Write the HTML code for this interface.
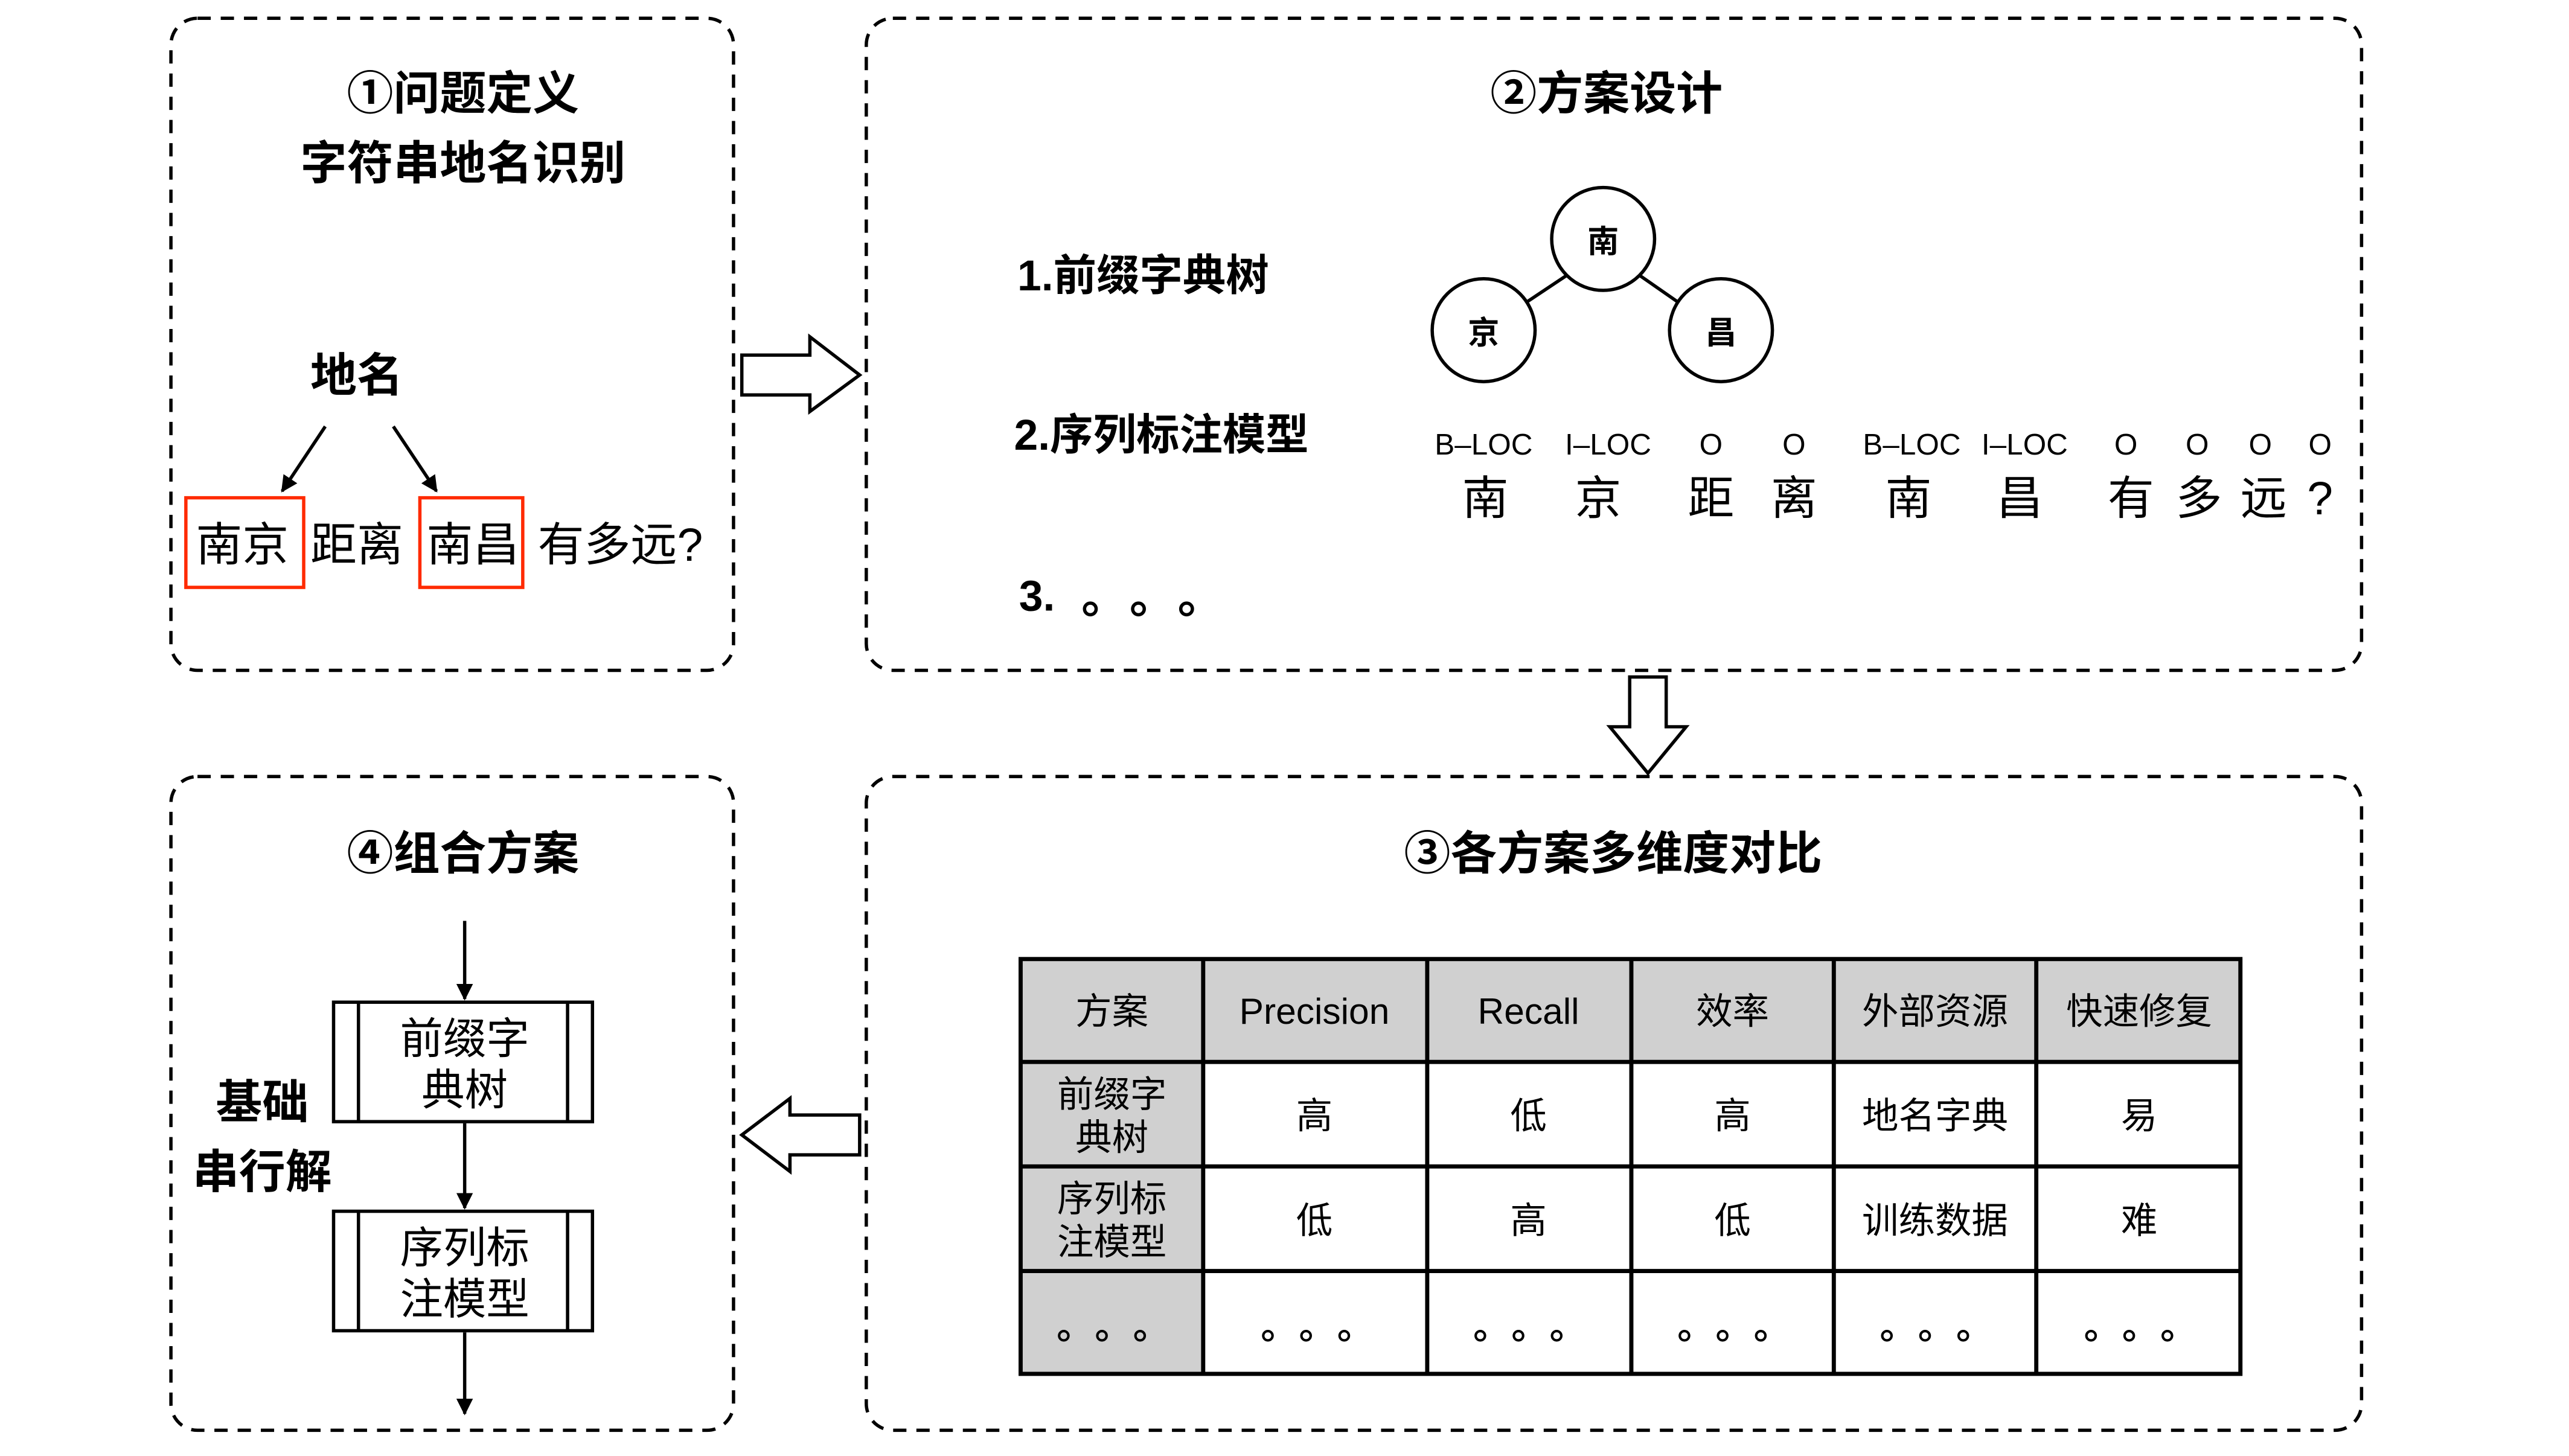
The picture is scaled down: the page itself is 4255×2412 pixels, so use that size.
<!DOCTYPE html>
<html><head><meta charset="utf-8"><style>
html,body{margin:0;padding:0;background:#fff;}
svg{display:block;}
text{font-family:"Liberation Sans","Noto Sans CJK SC",sans-serif;fill:#000;}
.b{font-weight:bold;}
</style></head><body>
<svg width="4255" height="2412" viewBox="0 0 1548 877.5" xmlns="http://www.w3.org/2000/svg">
<defs>
<marker id="ah" markerWidth="10" markerHeight="10" refX="9" refY="5" orient="auto" markerUnits="userSpaceOnUse" viewBox="0 0 10 10">
<path d="M0,0 L10,5 L0,10 z" fill="#000"/></marker>
</defs>
<g fill="none" stroke="#000" stroke-width="2" stroke-dasharray="8,6">
<rect x="103" y="11" width="339" height="393" rx="16"/>
<rect x="522" y="11" width="901" height="393" rx="16"/>
<rect x="522" y="468" width="901" height="394" rx="16"/>
<rect x="103" y="468" width="339" height="394" rx="16"/>
</g>
<g fill="#fff" stroke="#000" stroke-width="2">
<path d="M447,214 L488,214 L488,203 L518,226 L488,248 L488,238 L447,238 Z"/>
<path d="M982,408 L1004,408 L1004,438 L1016,438 L993,466 L970,438 L982,438 Z"/>
<path d="M518,672 L476,672 L476,662 L447,684 L476,706 L476,696 L518,696 Z"/>
</g>
<!-- Box 1 -->
<text class="b" x="279" y="66" font-size="28" text-anchor="middle">①问题定义</text>
<text class="b" x="279" y="108" font-size="28" text-anchor="middle">字符串地名识别</text>
<text class="b" x="215" y="236" font-size="28" text-anchor="middle">地名</text>
<g stroke="#000" stroke-width="2">
<line x1="196" y1="257" x2="170" y2="296" marker-end="url(#ah)"/>
<line x1="237" y1="257" x2="263" y2="296" marker-end="url(#ah)"/>
</g>
<g fill="none" stroke="#ff2a00" stroke-width="2">
<rect x="112" y="300" width="71" height="54"/>
<rect x="253" y="300" width="62" height="54"/>
</g>
<g font-size="28">
<text x="118" y="338">南京</text>
<text x="187" y="338">距离</text>
<text x="257" y="338">南昌</text>
<text x="324" y="338">有多远?</text>
</g>
<!-- Box 2 -->
<text class="b" x="968" y="66" font-size="28" text-anchor="middle">②方案设计</text>
<text class="b" x="613" y="175" font-size="26">1.前缀字典树</text>
<text class="b" x="611" y="271" font-size="26">2.序列标注模型</text>
<text class="b" x="614" y="368" font-size="26">3.</text>
<g fill="none" stroke="#000" stroke-width="2">
<circle cx="657" cy="367" r="3.5"/><circle cx="686" cy="367" r="3.5"/><circle cx="715" cy="367" r="3.5"/>
</g>
<g stroke="#000" stroke-width="2" fill="#fff">
<line x1="944" y1="166" x2="920" y2="182"/>
<line x1="988" y1="166" x2="1011" y2="182"/>
<circle cx="966" cy="144" r="31"/>
<circle cx="894" cy="199" r="31"/>
<circle cx="1037" cy="199" r="31"/>
</g>
<g class="b" font-size="19" text-anchor="middle">
<text x="966" y="152">南</text><text x="894" y="207">京</text><text x="1037" y="207">昌</text>
</g>
<g font-size="18" text-anchor="middle">
<text x="894" y="274">B–LOC</text><text x="969" y="274">I–LOC</text>
<text x="1031" y="274">O</text><text x="1081" y="274">O</text>
<text x="1152" y="274">B–LOC</text><text x="1220" y="274">I–LOC</text>
<text x="1281" y="274">O</text><text x="1324" y="274">O</text><text x="1362" y="274">O</text><text x="1398" y="274">O</text>
</g>
<g font-size="28" text-anchor="middle">
<text x="895" y="310">南</text><text x="963" y="310">京</text><text x="1031" y="310">距</text><text x="1081" y="310">离</text>
<text x="1150" y="310">南</text><text x="1217" y="310">昌</text><text x="1284" y="310">有</text><text x="1325" y="310">多</text><text x="1364" y="310">远</text><text x="1398" y="310">?</text>
</g>
<!-- Box 3 -->
<text class="b" x="972" y="524" font-size="28" text-anchor="middle">③各方案多维度对比</text>
<rect x="615" y="578" width="735" height="62" fill="#d0d0d0"/>
<rect x="615" y="640" width="110" height="188" fill="#d0d0d0"/>
<g stroke="#000" stroke-width="2.5" fill="none">
<rect x="615" y="578" width="735" height="250"/>
<line x1="725" y1="578" x2="725" y2="828"/><line x1="860" y1="578" x2="860" y2="828"/>
<line x1="983" y1="578" x2="983" y2="828"/><line x1="1105" y1="578" x2="1105" y2="828"/>
<line x1="1227" y1="578" x2="1227" y2="828"/>
<line x1="615" y1="640" x2="1350" y2="640"/><line x1="615" y1="703" x2="1350" y2="703"/><line x1="615" y1="766" x2="1350" y2="766"/>
</g>
<g font-size="22" text-anchor="middle">
<text x="670" y="617">方案</text><text x="792" y="617">Precision</text><text x="921" y="617">Recall</text>
<text x="1044" y="617">效率</text><text x="1166" y="617">外部资源</text><text x="1289" y="617">快速修复</text>
<text x="670" y="667">前缀字</text><text x="670" y="693">典树</text>
<text x="792" y="680">高</text><text x="921" y="680">低</text><text x="1044" y="680">高</text><text x="1166" y="680">地名字典</text><text x="1289" y="680">易</text>
<text x="670" y="730">序列标</text><text x="670" y="756">注模型</text>
<text x="792" y="743">低</text><text x="921" y="743">高</text><text x="1044" y="743">低</text><text x="1166" y="743">训练数据</text><text x="1289" y="743">难</text>
</g>
<g fill="none" stroke="#000" stroke-width="1.5">
<circle cx="641" cy="805" r="2.8"/><circle cx="664" cy="805" r="2.8"/><circle cx="687" cy="805" r="2.8"/>
<circle cx="764" cy="805" r="2.8"/><circle cx="787" cy="805" r="2.8"/><circle cx="810" cy="805" r="2.8"/>
<circle cx="892" cy="805" r="2.8"/><circle cx="915" cy="805" r="2.8"/><circle cx="938" cy="805" r="2.8"/>
<circle cx="1015" cy="805" r="2.8"/><circle cx="1038" cy="805" r="2.8"/><circle cx="1061" cy="805" r="2.8"/>
<circle cx="1137" cy="805" r="2.8"/><circle cx="1160" cy="805" r="2.8"/><circle cx="1183" cy="805" r="2.8"/>
<circle cx="1260" cy="805" r="2.8"/><circle cx="1283" cy="805" r="2.8"/><circle cx="1306" cy="805" r="2.8"/>
</g>
<!-- Box 4 -->
<text class="b" x="279" y="524" font-size="28" text-anchor="middle">④组合方案</text>
<g stroke="#000" stroke-width="2">
<line x1="280" y1="555" x2="280" y2="602" marker-end="url(#ah)"/>
<line x1="280" y1="677" x2="280" y2="728" marker-end="url(#ah)"/>
<line x1="280" y1="803" x2="280" y2="852" marker-end="url(#ah)"/>
</g>
<g stroke="#000" stroke-width="2" fill="#fff">
<rect x="201" y="604" width="156" height="72"/>
<line x1="216" y1="604" x2="216" y2="676"/><line x1="342" y1="604" x2="342" y2="676"/>
<rect x="201" y="730" width="156" height="72"/>
<line x1="216" y1="730" x2="216" y2="802"/><line x1="342" y1="730" x2="342" y2="802"/>
</g>
<g font-size="26" text-anchor="middle">
<text x="280" y="635">前缀字</text><text x="280" y="666">典树</text>
<text x="280" y="761">序列标</text><text x="280" y="792">注模型</text>
</g>
<text class="b" x="158" y="674" font-size="28" text-anchor="middle">基础</text>
<text class="b" x="158" y="716" font-size="28" text-anchor="middle">串行解</text>
</svg>
</body></html>
